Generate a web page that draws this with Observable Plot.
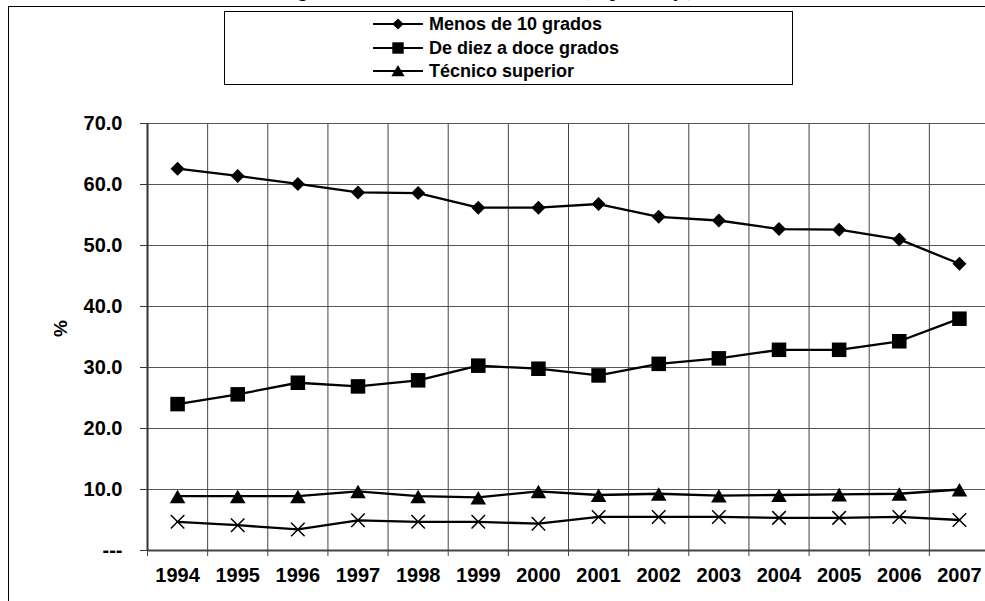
<!DOCTYPE html>
<html>
<head>
<meta charset="utf-8">
<script src="https://cdn.jsdelivr.net/npm/d3@7"></script>
<script src="https://cdn.jsdelivr.net/npm/@observablehq/plot@0.6"></script>
<style>
  body { margin: 0; background: #fff; }
  #wrap { position: relative; width: 985px; height: 601px; overflow: hidden; background: #fff; }
  #title { position: absolute; left: 194px; top: -17px; font: bold 17px/17px "Liberation Serif", "Times New Roman", serif; white-space: nowrap; color: #000; }
  #frame { position: absolute; left: 8px; top: 6px; width: 1000px; height: 700px; border: 1px solid #000; }
  #chart { position: absolute; left: 0; top: 0; }
  #legend { position: absolute; left: 224px; top: 11px; width: 567px; height: 72px; border: 1px solid #000; background: #fff; }
  .lrow { position: absolute; left: 0; height: 20px; }
  .lrow svg { position: absolute; left: 148px; top: 2px; }
  .lrow span { position: absolute; left: 204px; top: 0; font: bold 18px/20px "Liberation Sans", Arial, sans-serif; white-space: nowrap; color: #000; }
</style>
</head>
<body>
<div id="wrap">
  <div id="title">Asalariados según máximo nivel educativo alcanzado (en porcentaje)</div>
  <div id="frame"></div>
  <div id="chart"></div>
  <div id="legend"></div>
</div>
<script>
// ---- Data ----
const years = [1994, 1995, 1996, 1997, 1998, 1999, 2000, 2001, 2002, 2003, 2004, 2005, 2006, 2007];
const menos10 = [62.6, 61.4, 60.1, 58.7, 58.6, 56.2, 56.2, 56.8, 54.7, 54.1, 52.7, 52.6, 51.0, 47.0];
const diezDoce = [24.0, 25.6, 27.5, 26.9, 27.9, 30.3, 29.8, 28.7, 30.6, 31.5, 32.9, 32.9, 34.3, 38.0];
const tecnico = [8.9, 8.9, 8.9, 9.7, 8.9, 8.7, 9.7, 9.1, 9.3, 9.0, 9.1, 9.2, 9.3, 10.0];
const universitario = [4.7, 4.15, 3.45, 4.95, 4.7, 4.7, 4.4, 5.5, 5.5, 5.5, 5.35, 5.35, 5.5, 5.0];
const seriesNames = ["Menos de 10 grados", "De diez a doce grados", "Técnico superior", "Universitario"];
const legendNames = ["Menos de 10 grados", "De diez a doce grados", "Técnico superior"];
const yTicks = [0, 10, 20, 30, 40, 50, 60, 70];

// ---- Build table ----
const seriesValues = [menos10, diezDoce, tecnico, universitario];
const data = [];
seriesNames.forEach((name, i) => {
  years.forEach((yr, j) => data.push({series: name, year: yr, value: seriesValues[i][j]}));
});
const bounds = years.map(y => y - 0.5).concat([years[years.length - 1] + 0.5]);
const bySeries = name => data.filter(d => d.series === name);

const chart = Plot.plot({
  width: 985,
  height: 601,
  marginLeft: 147,
  marginRight: -4,
  marginTop: 123,
  marginBottom: 51,
  style: {fontFamily: "'Liberation Sans', Arial, sans-serif", fontWeight: "bold", fontSize: "20px", color: "#000", background: "transparent"},
  x: {domain: [bounds[0], bounds[bounds.length - 1]]},
  y: {domain: [0, 70]},
  marks: [
    Plot.ruleY(yTicks.slice(1), {stroke: "#555", strokeWidth: 1}),
    Plot.ruleX(bounds.slice(1), {stroke: "#444", strokeWidth: 1}),
    Plot.ruleX([bounds[0]], {stroke: "#333", strokeWidth: 2}),
    Plot.ruleY([0], {stroke: "#444", strokeWidth: 2}),
    Plot.axisY({ticks: yTicks, tickFormat: d => d === 0 ? "---" : d.toFixed(1), tickSize: 7, tickPadding: 18, label: null, stroke: "#333"}),
    Plot.axisX({ticks: years, tickFormat: d => String(d), tickSize: 0, tickPadding: 17, label: null}),
    Plot.axisX({ticks: bounds, tickFormat: () => "", tickSize: 6, tickPadding: 0, label: null, stroke: "#444"}),
    Plot.text(["%"], {frameAnchor: "left", dx: -87, rotate: -90, fontSize: 19, fontWeight: "bold"}),
    Plot.line(data, {x: "year", y: "value", z: "series", stroke: "#000", strokeWidth: 2.3}),
    Plot.dot(bySeries(seriesNames[0]), {x: "year", y: "value", symbol: "diamond2", r: 6.3, fill: "#000", stroke: "none"}),
    Plot.dot(bySeries(seriesNames[1]), {x: "year", y: "value", symbol: "square", r: 8.2, fill: "#000", stroke: "none"}),
    Plot.dot(bySeries(seriesNames[2]), {x: "year", y: "value", symbol: "triangle", r: 5.8, dy: 2.5, fill: "#000", stroke: "none"}),
    Plot.dot(bySeries(seriesNames[3]), {x: "year", y: "value", symbol: "times", r: 6.2, fill: "none", stroke: "#000", strokeWidth: 1.5})
  ]
});
document.getElementById("chart").appendChild(chart);

// ---- Legend ----
const legendSymbols = [[d3.symbolDiamond2, 80], [d3.symbolSquare, 130], [d3.symbolTriangle, 75]];
const legend = d3.select("#legend");
legendNames.forEach((name, i) => {
  const row = legend.append("div").attr("class", "lrow").style("top", (2 + 23.5 * i) + "px").style("width", "567px");
  const svg = row.append("svg").attr("width", 50).attr("height", 16);
  svg.append("line").attr("x1", 0).attr("x2", 50).attr("y1", 8).attr("y2", 8).attr("stroke", "#000").attr("stroke-width", 2.2);
  svg.append("path").attr("d", d3.symbol(legendSymbols[i][0], legendSymbols[i][1])()).attr("transform", "translate(25," + (i === 2 ? 9.5 : 8) + ")").attr("fill", "#000");
  row.append("span").text(name);
});
</script>
</body>
</html>
